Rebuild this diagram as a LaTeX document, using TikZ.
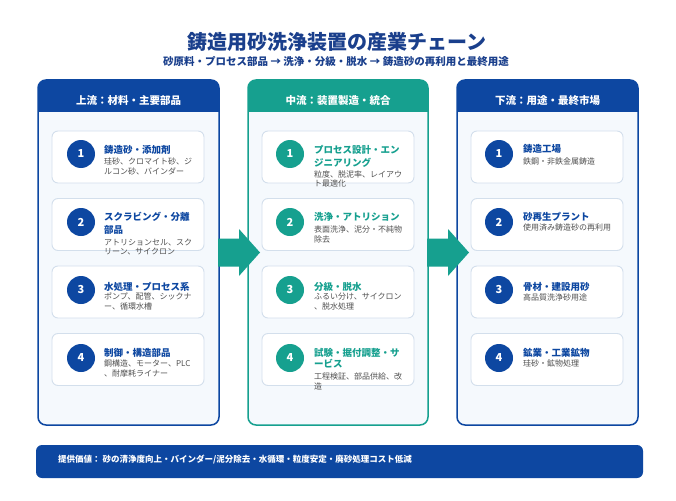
\documentclass[tikz,border=0pt]{standalone}
\usepackage{fontspec}
\setmainfont{Noto Sans CJK JP}
\usetikzlibrary{calc}
\definecolor{navy}{HTML}{0D47A1}
\definecolor{tealc}{HTML}{16A08F}
\definecolor{titlec}{HTML}{1A3F8C}
\definecolor{panelbg}{HTML}{F5F9FD}
\definecolor{cardbd}{HTML}{D3DFEC}
\definecolor{subc}{HTML}{505050}
\begin{document}
\begin{tikzpicture}[x=1pt,y=-1pt,
  panel/.style={rectangle, fill=panelbg, rounded corners=8, minimum width=181, minimum height=345, inner sep=0, outer sep=0},
  hdr/.style={anchor=base, inner sep=0, text=white, font=\fontsize{10.5}{12}\selectfont\bfseries},
  card/.style={rectangle, draw=cardbd, line width=0.9, fill=white, rounded corners=6, minimum width=152, minimum height=52, inner sep=0},
  numc/.style={circle, minimum size=28, inner sep=0, text=white, font=\fontsize{11}{12}\selectfont\bfseries},
  ttl/.style={anchor=base west, inner sep=0, font=\fontsize{9.5}{11}\selectfont\bfseries},
  sub/.style={anchor=base west, inner sep=0, text=subc, font=\fontsize{8}{10}\selectfont},
  flow/.style={fill=tealc}
]
\useasboundingbox (0,0) rectangle (676,500);
\fill[white] (0,0) rectangle (676,500);

% titles
\node[anchor=base, inner sep=0, text=titlec, font=\fontsize{20}{24}\selectfont\bfseries] (T) at (337,50) {鋳造用砂洗浄装置の産業チェーン};
\node[anchor=base, inner sep=0, text=titlec, font=\fontsize{10.5}{12}\selectfont\bfseries] (ST) at (336,65.5) {砂原料・プロセス部品 → 洗浄・分級・脱水 → 鋳造砂の再利用と最終用途};

% panels
\node[panel] (P1) at (128.5,252.5) {};
\node[panel, minimum width=180] (P2) at (338,252.5) {};
\node[panel] (P3) at (547.5,252.5) {};
\foreach \p/\c in {P1/navy,P2/tealc,P3/navy}{
  \begin{scope}
    \clip[rounded corners=8] (\p.south west) rectangle (\p.north east);
    \fill[\c] (\p.north west) rectangle ($(\p.north east)+(0,32)$);
  \end{scope}
  \draw[\c, line width=1.5, rounded corners=8] (\p.south west) rectangle (\p.north east);
}
\node[hdr] (H1) at ($(P1.north)+(0,24)$) {上流：材料・主要部品};
\node[hdr] (H2) at ($(P2.north)+(0,24)$) {中流：装置製造・統合};
\node[hdr] (H3) at ($(P3.north)+(0,24)$) {下流：用途・最終市場};

% arrows
\fill[flow] ($(P1.east)+(-1,-14)$) -- ++(21,0) -- ++(0,-9.5) -- ++(21,23.5) -- ++(-21,23.5) -- ++(0,-9.5) -- ++(-21,0) -- cycle;
\fill[flow] ($(P2.east)+(-1,-14)$) -- ++(21,0) -- ++(0,-9.5) -- ++(21,23.5) -- ++(-21,23.5) -- ++(0,-9.5) -- ++(-21,0) -- cycle;

% left column
\node[card] (L1) at (128,157) {};
\node[card] (L2) at (128,224.5) {};
\node[card] (L3) at (128,292) {};
\node[card] (L4) at (128,359.5) {};
\node[numc, fill=navy] (L1n) at (81,154) {1};
\node[numc, fill=navy] (L2n) at (81,222) {2};
\node[numc, fill=navy] (L3n) at (81,290) {3};
\node[numc, fill=navy] (L4n) at (81,358) {4};
\node[ttl, text=navy] (L1t) at (104,153) {鋳造砂・添加剤};
\node[sub] (L1s1) at (104,164) {珪砂、クロマイト砂、ジ};
\node[sub] (L1s2) at (104,174) {ルコン砂、バインダー};
\node[ttl, text=navy] (L2t1) at (104,220.5) {スクラビング・分離};
\node[ttl, text=navy] (L2t2) at (104,233) {部品};
\node[sub] (L2s1) at (104,245.3) {アトリションセル、スク};
\node[sub] (L2s2) at (104,254.7) {リーン、サイクロン};
\node[ttl, text=navy] (L3t) at (104,290.5) {水処理・プロセス系};
\node[sub] (L3s1) at (104,299.7) {ポンプ、配管、シックナ};
\node[sub] (L3s2) at (104,309.7) {ー、循環水槽};
\node[ttl, text=navy] (L4t) at (104,356) {制御・構造部品};
\node[sub] (L4s1) at (104,366.3) {鋼構造、モーター、PLC};
\node[sub] (L4s2) at (104,376.3) {、耐摩耗ライナー};

% middle column
\node[card] (M1) at (338,157) {};
\node[card] (M2) at (338,224.5) {};
\node[card] (M3) at (338,292) {};
\node[card] (M4) at (338,359.5) {};
\node[numc, fill=tealc] (M1n) at (290,154) {1};
\node[numc, fill=tealc] (M2n) at (290,222) {2};
\node[numc, fill=tealc] (M3n) at (290,290) {3};
\node[numc, fill=tealc] (M4n) at (290,358) {4};
\node[ttl, text=tealc] (M1t1) at (314,153.8) {プロセス設計・エン};
\node[ttl, text=tealc] (M1t2) at (314,166) {ジニアリング};
\node[sub] (M1s1) at (314,177.3) {粒度、脱泥率、レイアウ};
\node[sub] (M1s2) at (314,186.3) {ト最適化};
\node[ttl, text=tealc] (M2t) at (314,220.5) {洗浄・アトリション};
\node[sub] (M2s1) at (314,232.3) {表面洗浄、泥分・不純物};
\node[sub] (M2s2) at (314,242) {除去};
\node[ttl, text=tealc] (M3t) at (314,290.5) {分級・脱水};
\node[sub] (M3s1) at (314,299.7) {ふるい分け、サイクロン};
\node[sub] (M3s2) at (314,309.7) {、脱水処理};
\node[ttl, text=tealc] (M4t1) at (314,356) {試験・据付調整・サ};
\node[ttl, text=tealc] (M4t2) at (314,367) {ービス};
\node[sub] (M4s1) at (314,379.7) {工程検証、部品供給、改};
\node[sub] (M4s2) at (314,389) {造};

% right column
\node[card] (R1) at (547,157) {};
\node[card] (R2) at (547,224.5) {};
\node[card] (R3) at (547,292) {};
\node[card] (R4) at (547,359.5) {};
\node[numc, fill=navy] (R1n) at (499,154) {1};
\node[numc, fill=navy] (R2n) at (499,222) {2};
\node[numc, fill=navy] (R3n) at (499,290) {3};
\node[numc, fill=navy] (R4n) at (499,358) {4};
\node[ttl, text=navy] (R1t) at (523,152.8) {鋳造工場};
\node[sub] (R1s) at (523,164) {鉄鋼・非鉄金属鋳造};
\node[ttl, text=navy] (R2t) at (523,220.5) {砂再生プラント};
\node[sub] (R2s) at (523,230.7) {使用済み鋳造砂の再利用};
\node[ttl, text=navy] (R3t) at (523,290.5) {骨材・建設用砂};
\node[sub] (R3s) at (523,300.7) {高品質洗浄砂用途};
\node[ttl, text=navy] (R4t) at (523,356) {鉱業・工業鉱物};
\node[sub] (R4s) at (523,366.3) {珪砂・鉱物処理};

% bottom bar
\node[rectangle, fill=navy, rounded corners=6, minimum width=607, minimum height=33, inner sep=0] (B) at (339.5,461.5) {};
\node[anchor=base west, inner sep=0, text=white, font=\fontsize{8.5}{10}\selectfont\bfseries] (BT) at (58,462) {提供価値： 砂の清浄度向上・バインダー/泥分除去・水循環・粒度安定・廃砂処理コスト低減};
\end{tikzpicture}
\end{document}
